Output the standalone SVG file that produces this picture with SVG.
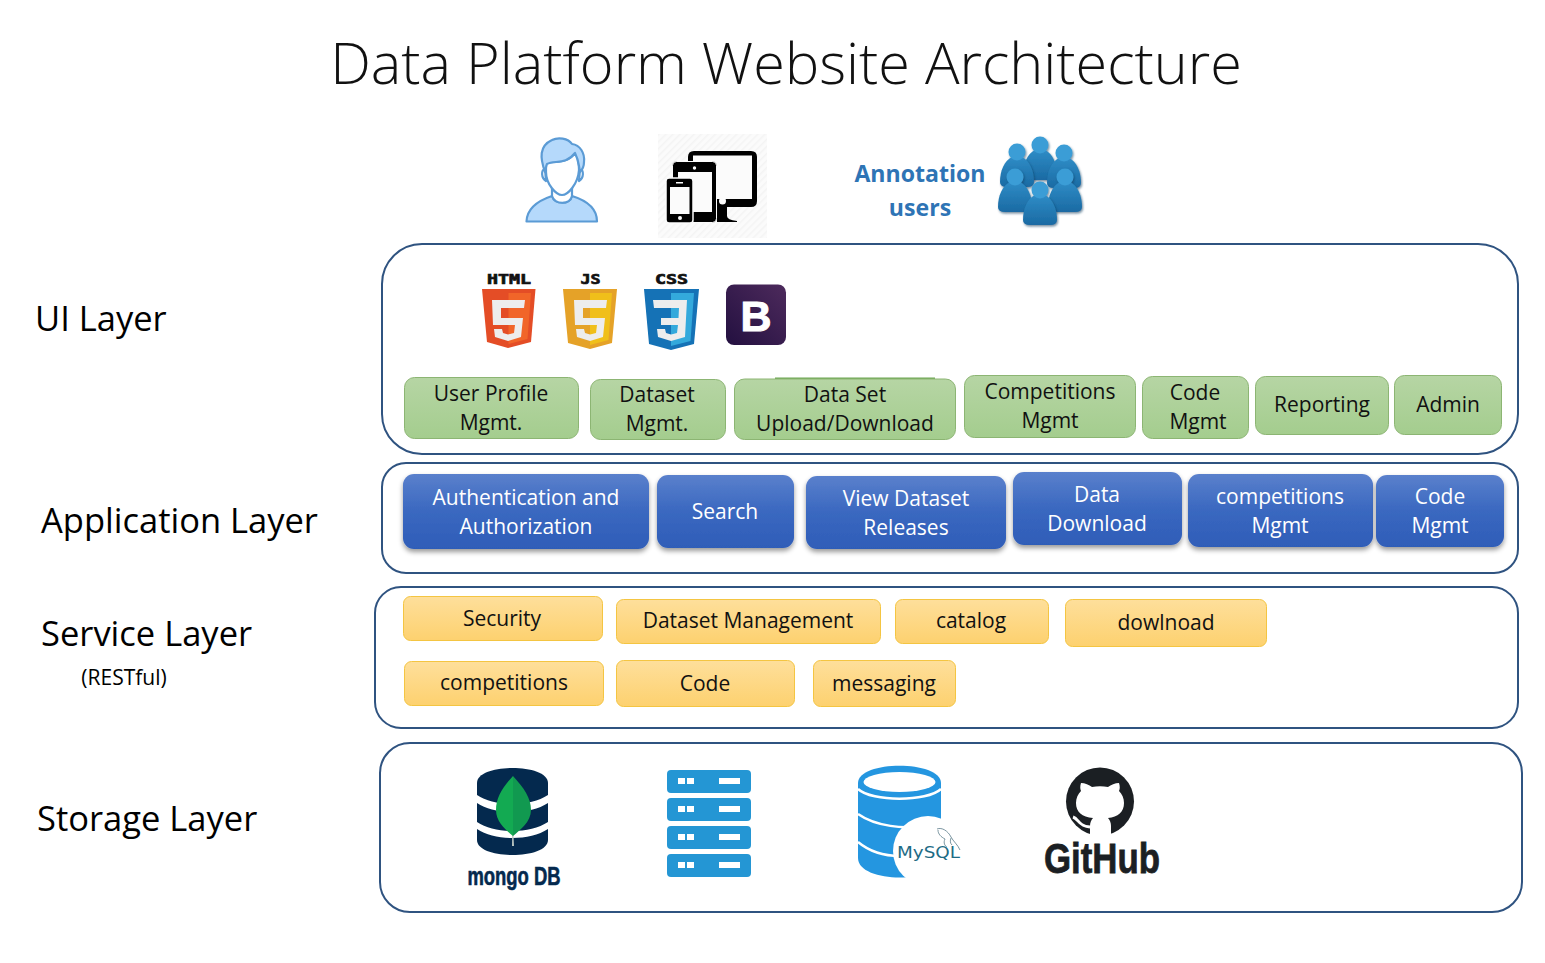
<svg xmlns="http://www.w3.org/2000/svg" width="1545" height="963" viewBox="0 0 1545 963">
<style>
text{font-family:"Open Sans","Noto Sans","Liberation Sans",sans-serif;text-anchor:middle}
.layer{fill:#fff;stroke:#2f5380;stroke-width:2}
.lbl{font-size:34.500px;fill:#000;text-anchor:start}
.g rect{fill:url(#gg);stroke:#8cb573;stroke-width:1}
.b rect{fill:url(#bg);filter:url(#sh)}
.y rect{fill:url(#yg);stroke:#f4c542;stroke-width:1}
.g text,.y text{font-size:21px;fill:#111}
.b text{font-size:21px;fill:#fff}
.ic{fill:#2496d4}
.px{font-size:14px;font-weight:700;font-family:"DejaVu Sans Mono",monospace;fill:#111;stroke:#111;stroke-width:.7}
.ann{font-size:23.100px;font-weight:700;fill:#2e74b5}
</style>
<defs>
<linearGradient id="gg" x1="0" y1="0" x2="0" y2="1"><stop offset="0" stop-color="#b6d5a4"/><stop offset="1" stop-color="#a4cd8e"/></linearGradient>
<linearGradient id="bg" x1="0" y1="0" x2="0" y2="1"><stop offset="0" stop-color="#5a80cc"/><stop offset=".5" stop-color="#3a68c0"/><stop offset="1" stop-color="#2f5db8"/></linearGradient>
<linearGradient id="yg" x1="0" y1="0" x2="0" y2="1"><stop offset="0" stop-color="#fedf9b"/><stop offset="1" stop-color="#fdd16f"/></linearGradient>
<linearGradient id="pg" x1="0" y1="0" x2="0" y2="1"><stop offset="0" stop-color="#2f8cc6"/><stop offset="1" stop-color="#1a6aa3"/></linearGradient>
<linearGradient id="bs" x1="0" y1="1" x2="1" y2="0"><stop offset="0" stop-color="#231040"/><stop offset="1" stop-color="#4d2a5c"/></linearGradient>
<filter id="sh" x="-10%" y="-10%" width="120%" height="130%"><feDropShadow dx="0" dy="3" stdDeviation="2.500" flood-color="#000" flood-opacity=".4"/></filter>
<filter id="ps" x="-20%" y="-20%" width="140%" height="140%"><feDropShadow dx="1" dy="1.500" stdDeviation="1.200" flood-color="#0b3a5e" flood-opacity=".6"/></filter>
<pattern id="st" width="5" height="5" patternUnits="userSpaceOnUse" patternTransform="rotate(-45)"><rect width="5" height="5" fill="#fbfbfb"/><rect width="5" height="1.500" fill="#f4f4f4"/></pattern>
<symbol id="p" overflow="visible"><g filter="url(#ps)"><path d="M-5 5C-13 9-17 19-17 30Q-17 35-10 35H10Q17 35 17 30C17 19 13 9 5 5Z" fill="url(#pg)"/><circle cx="0" cy="0" r="8.500" fill="#3a9dd6"/></g></symbol>
</defs>
<rect width="1545" height="963" fill="#fff"/>
<text id="title" x="786" y="84" style="font-size:57.600px;font-weight:300" fill="#111">Data Platform Website Architecture</text>

<g id="layers">
<g id="ui-layer"><rect class="layer" x="382" y="244" width="1136" height="210" rx="40"/><text class="lbl" x="35" y="331">UI Layer</text></g>
<g id="application-layer"><rect class="layer" x="382" y="463" width="1136" height="110" rx="24"/><text class="lbl" x="41" y="533">Application Layer</text></g>
<g id="service-layer"><rect class="layer" x="375" y="587" width="1143" height="141" rx="26"/><text class="lbl" x="41" y="646">Service Layer</text><text x="124" y="685" style="font-size:21px">(RESTful)</text></g>
<g id="storage-layer"><rect class="layer" x="380" y="743" width="1142" height="169" rx="30"/><text class="lbl" x="37" y="831">Storage Layer</text></g>
</g>

<g id="user-icon" fill="#b5d9fb" stroke="#5b9bd5" stroke-width="2.200" stroke-linejoin="round">
<path d="M526.500 221.500C527 207 540 200 552 196C555 205 570 205 572 196C585 200 597 207 597 221.500Z"/>
<path d="M552 186V196C555 205 570 205 572 196V186Z" fill="#fff"/>
<path d="M545 169C541 170 541 178 546 181ZM580 169C584 170 584 178 579 181Z" fill="#fff"/>
<path d="M546 163C552 161 566 165 575 153C578 157 579 162 579 170C578 184 568 195 562 195C556 195 546 184 546 172Z" fill="#fff"/>
<path d="M545 172C540 158 539 146 552 140C558 137 568 138 572 144C580 145 585 153 584 162C584 166 582 170 580 172L579 166C578 160 577 157 575 153C566 165 554 160 547 164C546 166 546 168 545 172Z"/>
</g>
<g id="devices-icon">
<rect x="658" y="134" width="109" height="104" fill="url(#st)"/>
<path d="M688 160V157Q688 151 694 151H751Q757 151 757 157V201Q757 207 751 207H688Z" fill="#000"/>
<rect x="693" y="155.500" width="59" height="43.500" fill="#fbfbfb"/>
<path d="M717 206H727V216Q727 220 737 221V222H717Z" fill="#000"/>
<circle cx="722.500" cy="201" r="3.500" fill="#fbfbfb"/>
<rect x="672.500" y="161.500" width="44" height="61" rx="4" fill="#000" stroke="#fbfbfb" stroke-width="1"/>
<rect x="678" y="172" width="34" height="40" fill="#fbfbfb"/>
<circle cx="694.500" cy="168" r="1.700" fill="#fbfbfb"/>
<rect x="666" y="178" width="27" height="45" rx="3" fill="#000" stroke="#fbfbfb" stroke-width="1.500"/>
<rect x="670" y="187" width="19.500" height="27" fill="#fbfbfb"/>
<rect x="676" y="182" width="7" height="1.500" fill="#fbfbfb"/>
<circle cx="680" cy="218" r="2" fill="#fbfbfb"/>
</g>
<g id="annotation-users">
<text class="ann" x="920" y="182">Annotation</text>
<text class="ann" x="920" y="216">users</text>
<use href="#p" x="1040" y="145"/><use href="#p" x="1017" y="152"/><use href="#p" x="1064" y="153"/><use href="#p" x="1015" y="177"/><use href="#p" x="1065" y="177"/><use href="#p" x="1040" y="190"/>
</g>

<g id="html5">
<text class="px" x="509" y="284" textLength="44" lengthAdjust="spacingAndGlyphs">HTML</text>
<path d="M482 289H535.500L531 342L508 348L487 342Z" fill="#e44d26"/><path d="M508.500 293H531L527.500 339L508.500 344Z" fill="#f16529"/>
<path d="M492 300H525L524 308H501V318H523L521 337L508 341L495 337L494 329H502L503 333L508 334.500L514 333L515 325H493Z" fill="#ededed"/>
</g>
<g id="js">
<text class="px" x="590.500" y="284" textLength="20" lengthAdjust="spacingAndGlyphs">JS</text>
<path d="M563 289H617L612 343L590 349L568 343Z" fill="#e5a228"/><path d="M590 293H612L608.500 340L590 345Z" fill="#f0bf1a"/>
<path d="M574 300H607L606 308H583V318H605L603 337L590 341L577 337L576 329H584L585 333L590 334.500L596 333L597 325H575Z" fill="#ededed"/>
</g>
<g id="css3">
<text class="px" x="671.500" y="284" textLength="33" lengthAdjust="spacingAndGlyphs">CSS</text>
<path d="M644 289H699L694 344L671 350L649 344Z" fill="#1572b6"/><path d="M671 293H694L690.500 341L671 346Z" fill="#33a9dc"/>
<path d="M653 300H687L685 337L671 341L658 337L657 329H665L666 333L671 334.500L677 333L678 325H661V318H678.500L679 308H654Z" fill="#ededed"/>
</g>
<g id="bootstrap">
<rect x="726" y="284.500" width="60" height="60.500" rx="8" fill="url(#bs)"/>
<text x="756" y="331" style="font-size:43px;font-weight:700;font-family:'Liberation Sans',sans-serif" fill="#fff" stroke="#fff" stroke-width="1">B</text>
</g>

<g id="ui-nodes" class="g">
<g id="ui-1"><rect x="404.500" y="377.500" width="174" height="61" rx="10"/><text x="491" y="401">User Profile</text><text x="491" y="430">Mgmt.</text></g>
<g id="ui-2"><rect x="590.500" y="379.500" width="135" height="60" rx="10"/><text x="657" y="402">Dataset</text><text x="657" y="431">Mgmt.</text></g>
<g id="ui-3"><path d="M775 378.500H935" stroke="#6ea854" stroke-width="2"/><rect x="734.500" y="379" width="221" height="60.500" rx="10"/><text x="845" y="402">Data Set</text><text x="845" y="431">Upload/Download</text></g>
<g id="ui-4"><rect x="964.500" y="375.500" width="171" height="62" rx="10"/><text x="1050" y="399">Competitions</text><text x="1050" y="428">Mgmt</text></g>
<g id="ui-5"><rect x="1142.500" y="376.500" width="106" height="62" rx="10"/><text x="1195" y="400">Code</text><text x="1198" y="429">Mgmt</text></g>
<g id="ui-6"><rect x="1255.500" y="376.500" width="133" height="58" rx="10"/><text x="1322" y="412">Reporting</text></g>
<g id="ui-7"><rect x="1394.500" y="375.500" width="107" height="59" rx="10"/><text x="1448" y="412">Admin</text></g>
</g>

<g id="app-nodes" class="b">
<g id="app-1"><rect x="403" y="474" width="246" height="75" rx="11"/><text x="526" y="505">Authentication and</text><text x="526" y="534">Authorization</text></g>
<g id="app-2"><rect x="657" y="475" width="137" height="73" rx="11"/><text x="725" y="519">Search</text></g>
<g id="app-3"><rect x="806" y="476" width="200" height="73" rx="11"/><text x="906" y="506">View Dataset</text><text x="906" y="535">Releases</text></g>
<g id="app-4"><rect x="1013" y="472" width="169" height="73" rx="11"/><text x="1097" y="502">Data</text><text x="1097" y="531">Download</text></g>
<g id="app-5"><rect x="1188" y="474" width="185" height="73" rx="11"/><text x="1280" y="504">competitions</text><text x="1280" y="533">Mgmt</text></g>
<g id="app-6"><rect x="1376" y="475" width="128" height="72" rx="11"/><text x="1440" y="504">Code</text><text x="1440" y="533">Mgmt</text></g>
</g>

<g id="service-nodes" class="y">
<g id="svc-1"><rect x="403.500" y="596.500" width="199" height="44" rx="7"/><text x="502" y="626">Security</text></g>
<g id="svc-2"><rect x="616.500" y="599.500" width="264" height="44" rx="7"/><text x="748" y="628">Dataset Management</text></g>
<g id="svc-3"><rect x="895.500" y="599.500" width="153" height="44" rx="7"/><text x="971" y="628">catalog</text></g>
<g id="svc-4"><rect x="1065.500" y="599.500" width="201" height="47" rx="7"/><text x="1166" y="630">dowlnoad</text></g>
<g id="svc-5"><rect x="404.500" y="661.500" width="199" height="44" rx="7"/><text x="504" y="690">competitions</text></g>
<g id="svc-6"><rect x="616.500" y="660.500" width="178" height="46" rx="7"/><text x="705" y="691">Code</text></g>
<g id="svc-7"><rect x="813.500" y="660.500" width="142" height="46" rx="7"/><text x="884" y="691">messaging</text></g>
</g>

<g id="mongodb">
<path d="M477 783C477 763 548 763 548 783V795C530 807 495 807 477 795Z" fill="#04294e"/>
<path d="M477 803C495 815 530 815 548 803V822C530 834 495 834 477 822Z" fill="#04294e"/>
<path d="M477 829C495 841 530 841 548 829V840C548 860 477 860 477 840Z" fill="#04294e"/>
<path d="M513 776L512 846H514L513.500 836Z" fill="#b8c4c0"/>
<path d="M513 776C524 788 531 798 531 810C531 822 520 830 513 836Z" fill="#119950"/>
<path d="M513 776C502 788 496 798 496 810C496 822 506 830 513 836Z" fill="#13aa52"/>
<text x="514" y="885" style="font-size:25px;font-weight:700;font-family:'Liberation Sans','Arial',sans-serif" fill="#04294e" stroke="#04294e" stroke-width=".6" textLength="93" lengthAdjust="spacingAndGlyphs">mongo DB</text>
</g>
<g id="server-icon">
<rect class="ic" x="667" y="770" width="84" height="23" rx="4"/><path d="M678 778h7v6h-7zM687 778h7v6h-7zM719 778h21v6h-21z" fill="#fff"/>
<rect class="ic" x="667" y="798" width="84" height="23" rx="4"/><path d="M678 806h7v6h-7zM687 806h7v6h-7zM719 806h21v6h-21z" fill="#fff"/>
<rect class="ic" x="667" y="826" width="84" height="23" rx="4"/><path d="M678 834h7v6h-7zM687 834h7v6h-7zM719 834h21v6h-21z" fill="#fff"/>
<rect class="ic" x="667" y="854" width="84" height="23" rx="4"/><path d="M678 862h7v6h-7zM687 862h7v6h-7zM719 862h21v6h-21z" fill="#fff"/>
</g>
<g id="mysql">
<path d="M858 783C858 760 941 760 941 783V858C941 884 858 884 858 858Z" fill="#2496e0"/>
<ellipse cx="899.500" cy="782" rx="36" ry="10" fill="#fff"/>
<path d="M858 789C872 802 927 802 941 789M858 814C875 826 905 830 925 825M858 842C870 852 885 856 900 856" fill="none" stroke="#fff" stroke-width="2.500"/>
<circle cx="928" cy="851" r="35" fill="#fff"/>
<text x="897" y="858" style="font-size:16px;text-anchor:start;font-family:'DejaVu Sans',sans-serif" fill="#1d6b85" textLength="63" lengthAdjust="spacingAndGlyphs">MySQL</text>
<path d="M937 829C942 827 948 831 951 837C953 841 958 845 960 850M938 830C938 834 941 837 945 839C943 843 945 846 947 847M951 838C950 841 950 843 952 845" fill="none" stroke="#6d8a96" stroke-width=".9"/>
</g>
<g id="github">
<circle cx="1100" cy="801.500" r="34" fill="#1b1f23"/>
<path d="M1081 783C1085 783 1089 785 1092 787C1097 786 1103 786 1108 787C1111 785 1115 783 1119 783C1120 786 1120 789 1119 791C1122 794 1124 798 1124 803C1124 812 1118 817 1108 818C1110 820 1111 823 1111 826V837H1090V826C1090 823 1091 820 1093 818C1082 817 1076 812 1076 803C1076 798 1078 794 1081 791C1080 789 1080 786 1081 783Z" fill="#fff"/>
<path d="M1073 817C1079 819 1078 826 1090 827" fill="none" stroke="#fff" stroke-width="3"/>
<text x="1102" y="873" style="font-size:43px;font-weight:700;font-family:'Liberation Sans',sans-serif" fill="#1b1f23" stroke="#1b1f23" stroke-width=".8" textLength="116" lengthAdjust="spacingAndGlyphs">GitHub</text>
</g>
</svg>
